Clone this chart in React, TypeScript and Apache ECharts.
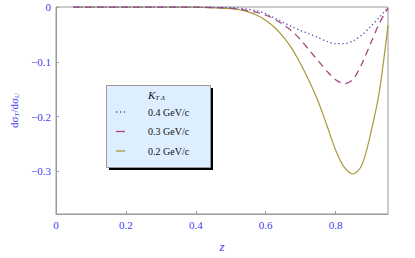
import React, { useEffect, useRef } from "react";
import * as echarts from "echarts";

const zValues = [0.05, 0.1, 0.2, 0.3, 0.4, 0.45, 0.5, 0.525, 0.55, 0.575, 0.6, 0.625, 0.65, 0.675, 0.7, 0.725, 0.75, 0.775, 0.8, 0.825, 0.85, 0.875, 0.9, 0.925, 0.95];
const k04 = [0, 0, 0, 0, 0, -0.0005, -0.001, -0.002, -0.004, -0.007, -0.012, -0.020, -0.028, -0.036, -0.043, -0.049, -0.056, -0.063, -0.067, -0.067, -0.062, -0.051, -0.036, -0.019, -0.001];
const k03 = [0, 0, 0, 0, 0, -0.001, -0.002, -0.004, -0.007, -0.010, -0.015, -0.022, -0.032, -0.044, -0.060, -0.079, -0.098, -0.117, -0.133, -0.140, -0.132, -0.104, -0.067, -0.030, -0.002];
const k02 = [0, 0, 0, 0, -0.0005, -0.0015, -0.003, -0.005, -0.009, -0.015, -0.024, -0.037, -0.054, -0.076, -0.104, -0.136, -0.172, -0.216, -0.261, -0.293, -0.305, -0.289, -0.232, -0.155, -0.033];
const legendLabels = ["0.4 GeV/c", "0.3 GeV/c", "0.2 GeV/c"];
const xTicks = [0, 0.2, 0.4, 0.6, 0.8];
const yTicks = [0, -0.1, -0.2, -0.3];

const colors = ["#5050b0", "#a8487e", "#a89a3c"];
const labelColor = "#3c3cf0";
const serif = "Liberation Serif";

export default function App() {
  const ref = useRef<HTMLDivElement>(null);
  useEffect(() => {
    document.body.style.margin = "0";
    const chart = echarts.init(ref.current!, null, { renderer: "svg" });
    const mk = (vals: number[]) => zValues.map((z, i) => [z, vals[i]]);
    const lx = 116, tx = 148;
    const rows = [112, 131.5, 151];
    chart.setOption({
      animation: false,
      grid: { left: 49, top: 7, width: 339, height: 209, show: true, borderColor: "#999", borderWidth: 1, containLabel: false },
      xAxis: {
        type: "value", min: 0, max: 0.95,
        axisLine: { show: true, onZero: false, lineStyle: { color: "#999" } },
        axisTick: { show: true, inside: true, length: 3, customValues: xTicks, lineStyle: { color: "#999" } },
        axisLabel: { customValues: xTicks, color: labelColor, fontFamily: serif, fontSize: 11, margin: 5, formatter: (v: number) => (v === 0 ? "0" : v.toFixed(1)) },
        splitLine: { show: false },
        name: "z", nameLocation: "middle", nameGap: 26,
        nameTextStyle: { color: labelColor, fontFamily: serif, fontSize: 13, fontStyle: "italic" },
      },
      yAxis: {
        type: "value", min: -0.378, max: 0,
        axisLine: { show: true, onZero: false, lineStyle: { color: "#999" } },
        axisTick: { show: true, inside: true, length: 3, customValues: yTicks, lineStyle: { color: "#999" } },
        axisLabel: { customValues: yTicks, color: labelColor, fontFamily: serif, fontSize: 11, margin: 5, formatter: (v: number) => (v === 0 ? "0" : "\u2212" + Math.abs(v).toFixed(1)) },
        splitLine: { show: false },
        name: "{a|d\u03c3}{s|T}{a|/d\u03c3}{s|U}", nameLocation: "middle", nameGap: 36, nameRotate: 90,
        nameTextStyle: {
          color: labelColor,
          rich: {
            a: { color: labelColor, fontFamily: serif, fontSize: 11 },
            s: { color: labelColor, fontFamily: serif, fontSize: 7, fontStyle: "italic", verticalAlign: "bottom", padding: [6, 0, 0, 0] },
          },
        },
      },
      series: [
        { type: "line", data: mk(k04), showSymbol: false, smooth: 0.3, lineStyle: { color: colors[0], width: 1.3, type: [1.3, 2.7] }, z: 3 },
        { type: "line", data: mk(k03), showSymbol: false, smooth: 0.3, lineStyle: { color: colors[1], width: 1.3, type: [7, 5] }, z: 2 },
        { type: "line", data: mk(k02), showSymbol: false, smooth: 0.3, lineStyle: { color: colors[2], width: 1.2 }, z: 1 },
      ],
      graphic: [
        { type: "rect", shape: { x: 109, y: 88, width: 104, height: 82 }, style: { fill: "#000" }, z: 10 },
        { type: "rect", shape: { x: 106.5, y: 85.5, width: 104, height: 82 }, style: { fill: "#ddeeff", stroke: "#999", lineWidth: 1 }, z: 11 },
        {
          type: "text", x: tx, y: 95, z: 12,
          style: {
            text: "{k|K}{s|T \u039b}", verticalAlign: "middle",
            rich: {
              k: { fontFamily: serif, fontSize: 11, fontStyle: "italic", fill: "#111" },
              s: { fontFamily: serif, fontSize: 7, fontStyle: "italic", fill: "#111", verticalAlign: "bottom", padding: [5, 0, 0, 0] },
            },
          },
        },
        { type: "line", z: 12, shape: { x1: lx, y1: rows[0], x2: lx + 9, y2: rows[0] }, style: { stroke: colors[0], lineWidth: 1.3, lineDash: [1.3, 2.7] } },
        { type: "line", z: 12, shape: { x1: lx, y1: rows[1], x2: lx + 9, y2: rows[1] }, style: { stroke: colors[1], lineWidth: 1.3 } },
        { type: "line", z: 12, shape: { x1: lx, y1: rows[2], x2: lx + 9, y2: rows[2] }, style: { stroke: colors[2], lineWidth: 1.3 } },
        ...legendLabels.map((t, i) => ({
          type: "text", x: tx, y: rows[i], z: 12,
          style: { text: t, fontFamily: serif, fontSize: 10, fill: "#111", verticalAlign: "middle" },
        })),
      ],
    });
    return () => chart.dispose();
  }, []);
  return <div ref={ref} style={{ width: 415, height: 258 }} />;
}
